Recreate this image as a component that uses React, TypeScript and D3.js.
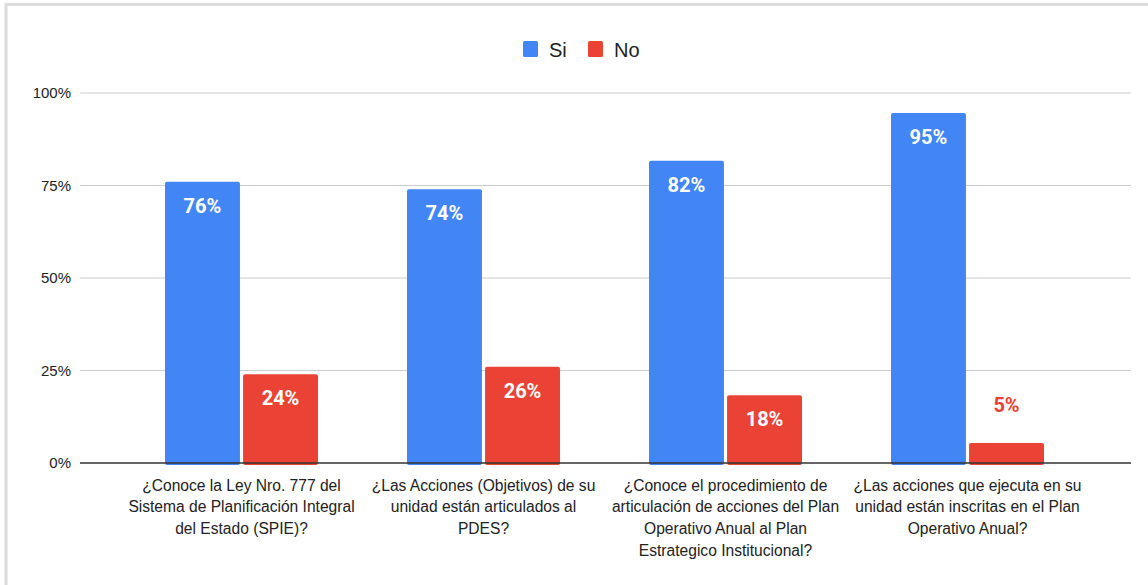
import * as d3 from 'd3'

const categories = ['q1', 'q2', 'q3', 'q4']
const categoryLines = [
  ['¿Conoce la Ley Nro. 777 del', 'Sistema de Planificación Integral', 'del Estado (SPIE)?'],
  ['¿Las Acciones (Objetivos) de su', 'unidad están articulados al', 'PDES?'],
  ['¿Conoce el procedimiento de', 'articulación de acciones del Plan', 'Operativo Anual al Plan', 'Estrategico Institucional?'],
  ['¿Las acciones que ejecuta en su', 'unidad están inscritas en el Plan', 'Operativo Anual?'],
]
const seriesNames = ['Si', 'No']
const siValues = [0.76, 0.74, 0.817, 0.946]
const noValues = [0.24, 0.26, 0.183, 0.054]
const yTicks = [0, 0.25, 0.5, 0.75, 1]

const colors: Record<string, string> = { Si: '#4285F4', No: '#EA4335' }
const W = 1148
const H = 585

export default function App() {
  const y = d3.scaleLinear().domain([0, 1]).range([463, 93])
  const x0 = d3.scaleBand().domain(categories).range([120.5, 1088.5]).padding(0)
  const x1 = d3.scaleBand().domain(seriesNames).range([44.5, 197.5]).paddingInner(0.04)
  const fmt = d3.format('.0%')
  const values: Record<string, number[]> = { Si: siValues, No: noValues }
  const font = '"Liberation Sans", Arial, sans-serif'

  return (
    <svg width={W} height={H} style={{ position: 'absolute', left: 0, top: 0, background: '#fff' }}>
      <rect x={6} y={4.5} width={W + 20} height={H + 20} fill="#fff" stroke="#dcdcdc" strokeWidth={3} />

      {/* legend */}
      <g fontFamily={font} fontSize={20} fill="#222">
        {seriesNames.map((s, i) => {
          const lx = i === 0 ? 523 : 588
          return (
            <g key={s}>
              <rect x={lx} y={41} width={15} height={16} rx={1.5} fill={colors[s]} />
              <text x={lx + 26} y={57}>{s}</text>
            </g>
          )
        })}
      </g>

      {/* grid + y axis */}
      {yTicks.map((t) => (
        <g key={t}>
          {t > 0 && <line x1={80} x2={1131} y1={y(t)} y2={y(t)} stroke="#cccccc" strokeWidth={1} />}
          <text x={71} y={y(t)} dy="0.35em" textAnchor="end" fontFamily={font} fontSize={15} fill="#222">
            {fmt(t)}
          </text>
        </g>
      ))}

      {/* bars */}
      {categories.map((c, ci) => (
        <g key={c} transform={`translate(${x0(c)},0)`}>
          {seriesNames.map((s) => {
            const v = values[s][ci]
            const bx = x1(s)!
            const top = y(v)
            const h = y(0) - top
            const inside = h > 40
            return (
              <g key={s}>
                <rect x={bx} y={top} width={x1.bandwidth()} height={h + 2} rx={2} fill={colors[s]} />
                <text
                  x={bx + x1.bandwidth() / 2}
                  y={inside ? top + 31 : top - 31}
                  textAnchor="middle"
                  fontFamily="Roboto, sans-serif"
                  fontWeight="bold"
                  fontSize={20}
                  fill={inside ? '#fff' : colors[s]}
                >
                  {fmt(v)}
                </text>
              </g>
            )
          })}
        </g>
      ))}

      <line x1={80} x2={1131} y1={y(0)} y2={y(0)} stroke="#333" strokeWidth={1.5} />

      {/* category labels */}
      {categories.map((c, ci) => (
        <text
          key={c}
          x={x0(c)! + x0.bandwidth() / 2}
          textAnchor="middle"
          fontFamily={font}
          fontSize={15.6}
          fill="#222"
        >
          {categoryLines[ci].map((ln, li) => (
            <tspan key={li} x={x0(c)! + x0.bandwidth() / 2} y={490.5 + li * 21.7}>
              {ln}
            </tspan>
          ))}
        </text>
      ))}
    </svg>
  )
}
